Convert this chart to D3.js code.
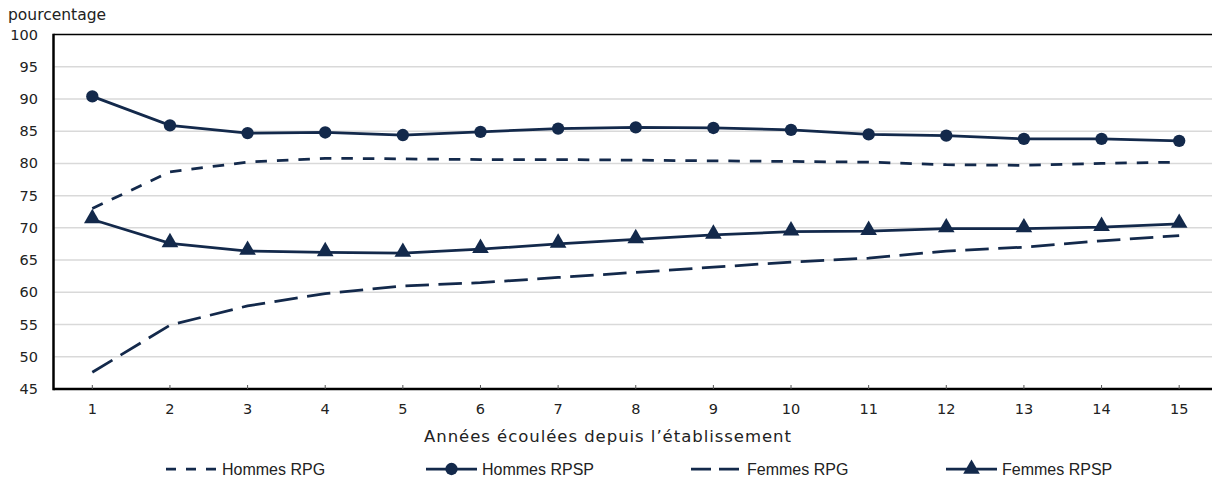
<!DOCTYPE html>
<html>
<head>
<meta charset="utf-8">
<script src="https://cdn.jsdelivr.net/npm/d3@7"></script>
<style>
  body { margin: 0; background: #fff; }
  svg { display: block; }
</style>
</head>
<body>
<div id="chart"></div>
<script>
// annees ecoulees
var years = [1, 2, 3, 4, 5, 6, 7, 8, 9, 10, 11, 12, 13, 14, 15];
var yTicks = [45, 50, 55, 60, 65, 70, 75, 80, 85, 90, 95, 100];

var hommesRPG  = [73.0, 78.7, 80.2, 80.8, 80.7, 80.6, 80.6, 80.5, 80.4, 80.3, 80.2, 79.8, 79.7, 80.0, 80.2];
var hommesRPSP = [90.4, 85.9, 84.7, 84.8, 84.4, 84.9, 85.4, 85.6, 85.5, 85.2, 84.5, 84.3, 83.8, 83.8, 83.5];
var femmesRPG  = [47.6, 54.9, 57.9, 59.8, 61.0, 61.5, 62.3, 63.1, 63.9, 64.7, 65.3, 66.4, 67.0, 68.0, 68.8];
var femmesRPSP = [71.3, 67.6, 66.4, 66.2, 66.1, 66.7, 67.5, 68.2, 68.9, 69.4, 69.5, 69.9, 69.9, 70.1, 70.6];

var seriesNames = ["Hommes RPG", "Hommes RPSP", "Femmes RPG", "Femmes RPSP"];

var W = 1212, H = 478;
var navy = "#13294b";
var axisFont = "DejaVu Sans, Verdana, sans-serif";

var svg = d3.select("#chart").append("svg")
    .attr("width", W)
    .attr("height", H);

// plot box (window.top is reserved, so no "top" var)
var plotL = 53.5, plotT = 34.5, plotB = 389, plotR = 1218;

var x = d3.scaleBand().domain(years).range([plotL, plotR]);
var y = d3.scaleLinear().domain([45, 100]).range([plotB, plotT]);
function cx(d) { return x(d) + x.bandwidth() / 2; }

// gridlines
svg.append("g")
    .selectAll("line")
    .data(yTicks.filter(function (t) { return t > 45 && t < 100; }))
    .enter().append("line")
    .attr("x1", plotL).attr("x2", W)
    .attr("y1", function (d) { return y(d); })
    .attr("y2", function (d) { return y(d); })
    .attr("stroke", "#d9d9d9")
    .attr("stroke-width", 1.5);

// frame: top, left, bottom
svg.append("line").attr("x1", plotL).attr("x2", W).attr("y1", y(100)).attr("y2", y(100))
    .attr("stroke", "#000").attr("stroke-width", 1.5);
svg.append("line").attr("x1", plotL).attr("x2", W).attr("y1", plotB).attr("y2", plotB)
    .attr("stroke", "#000").attr("stroke-width", 2.5);
svg.append("line").attr("x1", plotL).attr("x2", plotL).attr("y1", plotT - 0.75).attr("y2", plotB + 1.25)
    .attr("stroke", "#000").attr("stroke-width", 2.5);

// x ticks (small, pointing up) + labels
var xg = svg.append("g");
xg.selectAll("line").data(years).enter().append("line")
    .attr("x1", cx).attr("x2", cx)
    .attr("y1", plotB - 4).attr("y2", plotB)
    .attr("stroke", "#555").attr("stroke-width", 1);
xg.selectAll("text").data(years).enter().append("text")
    .attr("x", cx).attr("y", 414)
    .attr("text-anchor", "middle")
    .attr("font-family", axisFont)
    .attr("font-size", 14.5)
    .attr("fill", "#222")
    .text(function (d) { return d; });

// y labels
svg.append("g").selectAll("text").data(yTicks).enter().append("text")
    .attr("x", 38).attr("y", function (d) { return y(d) + 5; })
    .attr("text-anchor", "end")
    .attr("font-family", axisFont)
    .attr("font-size", 14.5)
    .attr("fill", "#222")
    .text(function (d) { return d; });

svg.append("text")
    .attr("x", 8).attr("y", 20)
    .attr("font-family", axisFont)
    .attr("font-size", 15.5)
    .attr("fill", "#222")
    .text("pourcentage");

svg.append("text")
    .attr("x", 424).attr("y", 442)
    .attr("textLength", 367)
    .attr("lengthAdjust", "spacing")
    .attr("font-family", axisFont)
    .attr("font-size", 16.5)
    .attr("fill", "#222")
    .text("Années écoulées depuis l’établissement");

// series
var series = [
  { name: seriesNames[0], values: hommesRPG,  dash: "11.5,10",  legDash: "10,10", marker: null },
  { name: seriesNames[1], values: hommesRPSP, dash: null,       legDash: null,    marker: "circle" },
  { name: seriesNames[2], values: femmesRPG,  dash: "23.5,9.5", legDash: "20,8",  marker: null },
  { name: seriesNames[3], values: femmesRPSP, dash: null,       legDash: null,    marker: "triangle" }
];

var line = d3.line()
    .x(function (d, i) { return cx(years[i]); })
    .y(function (d) { return y(d); });

var circleSym = d3.symbol().type(d3.symbolCircle).size(120);
var triSym = d3.symbol().type(d3.symbolTriangle).size(120);

series.forEach(function (s) {
  svg.append("path")
      .datum(s.values)
      .attr("d", line)
      .attr("fill", "none")
      .attr("stroke", navy)
      .attr("stroke-width", 2.75)
      .attr("stroke-dasharray", s.dash);

  if (s.marker) {
    svg.append("g").selectAll("path")
        .data(s.values)
        .enter().append("path")
        .attr("d", s.marker === "circle" ? circleSym : triSym)
        .attr("transform", function (d, i) {
          return "translate(" + cx(years[i]) + "," + (y(d) + (s.marker === "triangle" ? -1 : 0)) + ")";
        })
        .attr("fill", navy);
  }
});

// legend
var legX = [166, 426, 691, 946];
var legY = 469;
var leg = svg.append("g").selectAll("g")
    .data(series)
    .enter().append("g")
    .attr("transform", function (d, i) { return "translate(" + legX[i] + "," + legY + ")"; });

leg.append("line")
    .attr("x1", 0).attr("x2", 51)
    .attr("stroke", navy)
    .attr("stroke-width", 2.75)
    .attr("stroke-dasharray", function (d) { return d.legDash; });

leg.filter(function (d) { return d.marker; })
    .append("path")
    .attr("d", function (d) { return d.marker === "circle" ? circleSym() : triSym(); })
    .attr("transform", "translate(25.5,0)")
    .attr("fill", navy);

leg.append("text")
    .attr("x", 56).attr("y", 5.5)
    .attr("font-family", "Liberation Sans, Arial, sans-serif")
    .attr("font-size", 16)
    .attr("fill", "#222")
    .text(function (d) { return d.name; });
</script>
</body>
</html>
